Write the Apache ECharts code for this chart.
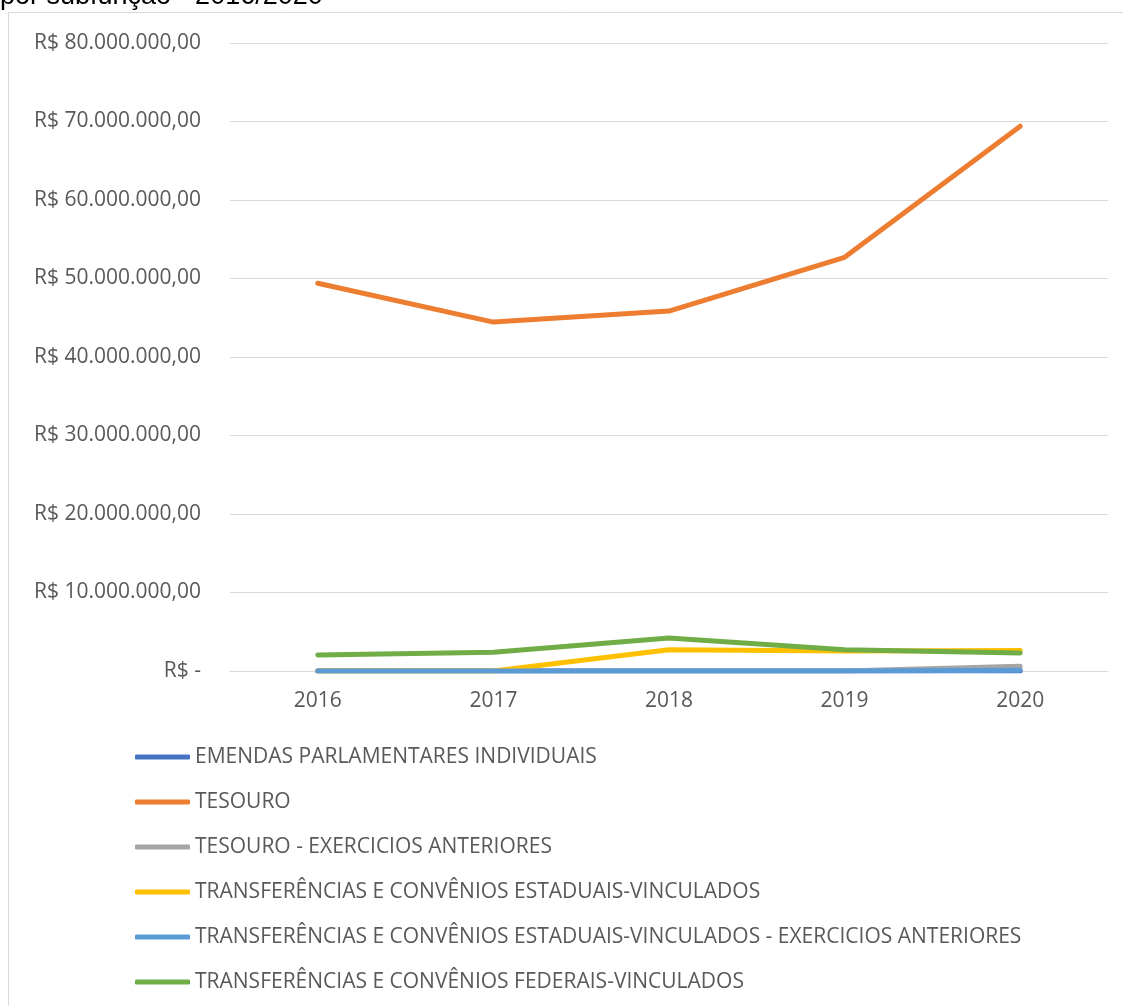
<!DOCTYPE html>
<html><head><meta charset="utf-8">
<script src="https://cdn.jsdelivr.net/npm/echarts@6/dist/echarts.min.js"></script>
<style>html,body{margin:0;padding:0;background:#fff}#c{width:1123px;height:1006px}</style>
</head><body><div id="c"></div>
<script>
var years = ['2016','2017','2018','2019','2020'];
var seriesNames = [
  'EMENDAS PARLAMENTARES INDIVIDUAIS',
  'TESOURO',
  'TESOURO - EXERCICIOS ANTERIORES',
  'TRANSFERÊNCIAS E CONVÊNIOS ESTADUAIS-VINCULADOS',
  'TRANSFERÊNCIAS E CONVÊNIOS ESTADUAIS-VINCULADOS - EXERCICIOS ANTERIORES',
  'TRANSFERÊNCIAS E CONVÊNIOS FEDERAIS-VINCULADOS'
];
var emendas = [0, 0, 0, 0, 0];
var tesouro = [49400000, 44450000, 45850000, 52700000, 69400000];
var tesouroAnt = [0, 0, 0, 0, 600000];
var estaduais = [0, 0, 2700000, 2550000, 2600000];
var estaduaisAnt = [0, 0, 0, 0, 100000];
var federais = [2050000, 2400000, 4200000, 2700000, 2300000];
var colors = ['#4472C4', '#ED7D31', '#A5A5A5', '#FFC000', '#5B9BD5', '#70AD47'];
var allData = [emendas, tesouro, tesouroAnt, estaduais, estaduaisAnt, federais];

function fmt(v) {
  if (v === 0) return 'R$ -';
  var s = Math.round(v).toString().replace(/\B(?=(\d{3})+(?!\d))/g, '.');
  return 'R$ ' + s + ',00';
}

var chart = echarts.init(document.getElementById('c'), null, {renderer: 'canvas'});
var font = '"Open Sans", "Noto Sans", sans-serif';
chart.setOption({
  animation: false,
  color: colors,
  graphic: [
    {type: 'rect', shape: {x: 8.5, y: 12.5, width: 1200, height: 1100}, style: {fill: 'none', stroke: '#d9d9d9', lineWidth: 1}, z: -1},
    {type: 'text', x: 0, y: -3, style: {text: 'por subfunção - 2016/2020', font: '27px "Liberation Sans", Arial, sans-serif', fill: '#000', verticalAlign: 'middle'}}
  ],
  grid: {left: 230, right: 15, top: 43, bottom: 335},
  xAxis: {
    type: 'category', data: years, boundaryGap: true,
    axisLine: {lineStyle: {color: '#d9d9d9', width: 1}},
    axisTick: {show: false},
    axisLabel: {color: '#595959', fontSize: 21, fontFamily: font, margin: 20}
  },
  yAxis: {
    type: 'value', min: 0, max: 80000000, interval: 10000000,
    axisLine: {show: false}, axisTick: {show: false},
    splitLine: {lineStyle: {color: '#d9d9d9', width: 1}},
    axisLabel: {color: '#595959', fontSize: 21, fontFamily: font, margin: 29, formatter: fmt}
  },
  legend: {
    orient: 'vertical', left: 130, top: 740,
    itemWidth: 55, itemHeight: 5, itemGap: 21, itemStyle: {borderWidth: 0},
    icon: 'roundRect',
    textStyle: {color: '#595959', fontSize: 21, fontFamily: font, lineHeight: 24, padding: [0, 0, 0, 0]},
    data: seriesNames
  },
  series: seriesNames.map(function (n, i) {
    return {
      name: n, type: 'line', data: allData[i], showSymbol: false, symbol: 'none',
      lineStyle: {width: 5, color: colors[i], cap: 'round', join: 'round'},
      itemStyle: {color: colors[i]}
    };
  })
});
</script></body></html>
